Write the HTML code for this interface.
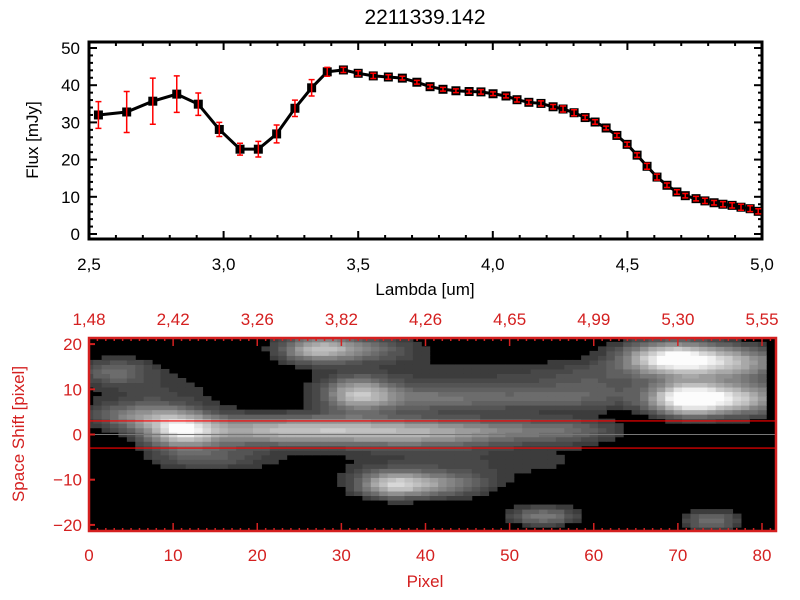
<!DOCTYPE html>
<html><head><meta charset="utf-8"><style>
html,body{margin:0;padding:0;background:#fff;width:800px;height:600px;overflow:hidden}
svg{display:block;font-family:"Liberation Sans",sans-serif}
</style></head><body>
<svg id="c" width="800" height="600" viewBox="0 0 800 600"></svg>
<script>
const wavelengths=[2.535,2.640,2.737,2.826,2.906,2.984,3.061,3.129,3.197,3.265,3.327,3.385,3.445,3.500,3.556,3.612,3.664,3.718,3.767,3.815,3.863,3.912,3.956,4.001,4.049,4.090,4.134,4.179,4.224,4.261,4.302,4.343,4.380,4.421,4.461,4.499,4.536,4.573,4.610,4.647,4.684,4.715,4.755,4.788,4.822,4.855,4.889,4.922,4.956,4.986];
const flux=[32.0,32.8,35.7,37.6,34.9,28.1,22.8,22.8,26.9,33.8,39.3,43.6,44.1,43.2,42.5,42.2,41.9,40.8,39.6,38.9,38.5,38.3,38.2,37.7,37.1,36.1,35.4,35.1,34.2,33.6,32.6,31.3,30.1,28.5,26.5,24.1,21.2,18.2,15.3,13.1,11.3,10.3,9.5,8.9,8.4,8.0,7.7,7.2,6.8,6.1];
const fluxErr=[3.6,5.5,6.2,4.9,3.0,1.9,1.6,2.1,2.4,2.2,2.2,1.2,0.7,0.7,0.7,0.6,0.5,0.5,0.5,0.5,0.5,0.5,0.6,0.5,0.5,0.6,0.6,0.7,0.6,0.8,0.8,0.6,0.6,0.5,0.6,0.6,0.6,0.8,0.8,0.6,0.6,0.6,0.6,0.7,0.6,0.7,0.7,0.8,0.8,0.7];
const xTicks=[2.5,3.0,3.5,4.0,4.5,5.0];
const xTickLabels=["2,5","3,0","3,5","4,0","4,5","5,0"];
const yTicks=[0,10,20,30,40,50];
const pixTicks=[0,10,20,30,40,50,60,70,80];
const topWaveLabels=["1,48","2,42","3,26","3,82","4,26","4,65","4,99","5,30","5,55"];
const shiftTicks=[-20,-10,0,10,20];
// blobs in the 2D spectrum: [pixel, shift, brightness, widthPix, widthShift]
const blobPix=[11,20,30,40,50,58,32,40,55,27,32,69,76,71,77,36,42,54,74,3,6,14,8,45,45,60];
const blobShift=[1,1,1,0.5,1,1,9,8,8,19,19,17,16,8,8,-11,-11,-18,-19,14,4,-5,8,-6,13,12];
const blobAmp=[0.75,0.5,0.5,0.45,0.3,0.2,0.6,0.3,0.25,0.5,0.35,0.85,0.6,0.95,0.7,0.65,0.4,0.4,0.35,0.3,0.35,0.25,0.15,0.14,0.13,0.15];
const blobSx=[3,6,6,6,6,4,3,6,8,3,5,4,5,3,4,3,4,3,2.5,3,4,5,6,14,14,5];
const blobSy=[2.5,2.2,2.2,2.2,2,2,2.5,2,2,2,2,2.5,2.5,2.5,2.5,2,2,1.5,1.5,2,2,2,5,3,3,3];

const NS="http://www.w3.org/2000/svg";
const svg=document.getElementById('c');
function mk(t,a,p){const e=document.createElementNS(NS,t);for(const k in a)e.setAttribute(k,a[k]);(p||svg).appendChild(e);return e;}
const X0=89,X1=762,Y0=234,Y1=48;
const xs=v=>X0+(v-2.5)/2.5*(X1-X0);
const ys=v=>Y0+(v/50)*(Y1-Y0);
const title=mk('text',{x:425,y:24,'font-size':21,'text-anchor':'middle'});title.textContent='2211339.142';


const g1=mk('g',{});


for(let v=2.5;v<=5.001;v+=0.1){const x=xs(v);const maj=Math.abs(v*2-Math.round(v*2))<1e-6;const L=maj?8:4;
 mk('line',{x1:x,y1:239,x2:x,y2:239-L,stroke:'#000','stroke-width':2},g1);
 mk('line',{x1:x,y1:42,x2:x,y2:42+L,stroke:'#000','stroke-width':2},g1);}
for(let v=0;v<=51;v+=2){const y=ys(v);const L=(v%10==0)?8:4;
 mk('line',{x1:89,y1:y,x2:89+L,y2:y,stroke:'#000','stroke-width':2},g1);
 mk('line',{x1:762,y1:y,x2:762-L,y2:y,stroke:'#000','stroke-width':2},g1);}
mk('rect',{x:89,y:42,width:673,height:197,fill:'none',stroke:'#000','stroke-width':3},g1);
xTicks.forEach((v,i)=>{const t=mk('text',{x:xs(v),y:270,'font-size':17,'text-anchor':'middle'},g1);t.textContent=xTickLabels[i];
 
 });
yTicks.forEach(v=>{const t=mk('text',{x:80,y:ys(v)+6,'font-size':17,'text-anchor':'end'},g1);t.textContent=v;
 
 });
const xl=mk('text',{x:425,y:295,'font-size':17,'text-anchor':'middle'},g1);xl.textContent='Lambda [um]';


const yl=mk('text',{x:38,y:140,'font-size':17,'text-anchor':'middle',transform:'rotate(-90 38 140)'},g1);yl.textContent='Flux [mJy]';


const pts=wavelengths.map((w,i)=>xs(w)+','+ys(flux[i])).join(' ');
const ln=mk('polyline',{points:pts,fill:'none',stroke:'#000','stroke-width':3},g1);


wavelengths.forEach((w,i)=>{const x=xs(w),y=ys(flux[i]);
 const m=mk('rect',{x:x-4.5,y:y-4.5,width:9,height:9,fill:'#000'},g1);
 
 
 const ya=ys(flux[i]+fluxErr[i]),yb=ys(flux[i]-fluxErr[i]);
 const eb=mk('path',{d:`M${x},${ya}V${yb}M${x-3},${ya}H${x+3}M${x-3},${yb}H${x+3}`,stroke:'#f00','stroke-width':1.5,fill:'none'},g1);
 
 });
const red='#d42020';
const P0=89,P1=762,S0=434.5,SS=4.52;
const px=v=>P0+v/80*(P1-P0);
const sy=v=>S0-v*SS;
const g2=mk('g',{});


mk('rect',{x:89,y:338,width:687,height:193,fill:'#000'},g2);
const cw=(P1-P0)/80;
for(let i=0;i<81;i++){for(let j=-21;j<=21;j++){let v=0;
 for(let k=0;k<blobPix.length;k++){const dx=(i-blobPix[k])/blobSx[k],dy=(j-blobShift[k])/blobSy[k];v+=blobAmp[k]*Math.exp(-0.5*(dx*dx+dy*dy));}
 if(v<0.1)continue;v=Math.min(1,v);const q=Math.round((0.13+0.87*v)*255/12)*12;const c=Math.min(255,q);
 const x=px(i)-cw/2,y=sy(j)-SS/2;const x0=Math.max(89,x),x1=Math.min(776,x+cw),y0=Math.max(338,y),y1=Math.min(531,y+SS);
 if(x1<=x0||y1<=y0)continue;
 const r=mk('rect',{x:x0,y:y0,width:x1-x0+0.5,height:y1-y0+0.5,fill:`rgb(${c},${c},${c})`},g2);
 
 }}
mk('line',{x1:89,y1:sy(0),x2:776,y2:sy(0),stroke:'#777','stroke-width':1},g2);
mk('line',{x1:89,y1:sy(3),x2:776,y2:sy(3),stroke:'#f00','stroke-width':1.2},g2);
mk('line',{x1:89,y1:sy(-3),x2:776,y2:sy(-3),stroke:'#f00','stroke-width':1.2},g2);
for(let v=0;v<=81;v+=1){const x=px(v);const L=(v%10==0)?8:3;
 mk('line',{x1:x,y1:531,x2:x,y2:531-L,stroke:red,'stroke-width':1.5},g2);
 mk('line',{x1:x,y1:338,x2:x,y2:338+L,stroke:red,'stroke-width':1.5},g2);}
shiftTicks.forEach(v=>{mk('line',{x1:89,y1:sy(v),x2:95,y2:sy(v),stroke:red,'stroke-width':2},g2);});
mk('rect',{x:89,y:338,width:687,height:193,fill:'none',stroke:red,'stroke-width':2.5},g2);
pixTicks.forEach((v,i)=>{const t=mk('text',{x:px(v),y:561,'font-size':17,'text-anchor':'middle',fill:red},g2);t.textContent=v;
 
 
 const t2=mk('text',{x:px(v),y:325,'font-size':17,'text-anchor':'middle',fill:red},g2);t2.textContent=topWaveLabels[i];
 
 });
shiftTicks.forEach(v=>{const t=mk('text',{x:82,y:sy(v)+6,'font-size':17,'text-anchor':'end',fill:red},g2);t.textContent=v<0?'\u2212'+(-v):v;
 
 });
const bx=mk('text',{x:425,y:587,'font-size':17,'text-anchor':'middle',fill:red},g2);bx.textContent='Pixel';


const by=mk('text',{x:24,y:434,'font-size':17,'text-anchor':'middle',fill:red,transform:'rotate(-90 24 434)'},g2);by.textContent='Space Shift [pixel]';


</script>
</body></html>
